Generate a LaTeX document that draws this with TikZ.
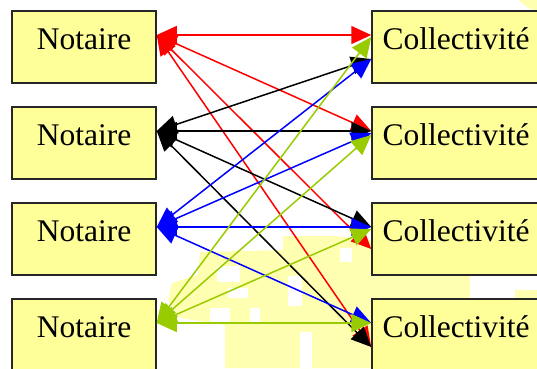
\documentclass[tikz,border=0pt]{standalone}
\usepackage{fontspec}
\setmainfont{Liberation Serif}
\usetikzlibrary{arrows.meta}
\definecolor{boite} {rgb}{1,1,0.6}
\definecolor{filigrane} {rgb}{1,1,0.7}
\definecolor{rouge} {rgb}{1,0,0}
\definecolor{noir} {rgb}{0,0,0}
\definecolor{bleu} {rgb}{0,0,1}
\definecolor{vert} {rgb}{0.6,0.8,0}

\begin{document}
\begin{tikzpicture}[x=1pt,y=-1pt,
      boite/.style={draw=black!85,line width=1.5pt,fill=boite,minimum height=72pt,inner sep=0pt,
                    text height=22pt,text depth=17pt,font=\fontsize{31.5}{36}\selectfont},
      lien/.style={line width=1.5pt,{Triangle[length=20pt,width=18pt]}-{Triangle[length=20pt,width=18pt]}}]
                  \useasboundingbox (0,0) rectangle (537,368);
                  \clip (0,0) rectangle (537,368);
                  \fill[filigrane] (283,236) -- (335,236) -- (372,240) -- (372,368) -- (225,368) -- (225,325) -- (180,318) -- (168,300) -- (172,283) -- (198,275) -- (200,252) -- (283,250) -- cycle;
                  \fill[filigrane] (372,276) -- (470,276) -- (470,300) -- (372,300) -- cycle;
                  \fill[filigrane] (515,290) rectangle (537,300);
                  \fill[filigrane] (545,-22) circle(34);
                  \fill[white] (217,266) rectangle (240,282);
                  \fill[white] (228,288) rectangle (248,298);
                  \fill[white] (288,276) rectangle (302,306);
                  \fill[white] (210,308) rectangle (230,322);
                  \fill[white] (250,308) rectangle (260,322);
                  \fill[white] (300,332) rectangle (312,368);
                  \fill[white] (340,248) rectangle (352,262);
                  \node[boite,minimum width=144pt] (notaire1) at (84,47) {Notaire};
                  \node[boite,minimum width=144pt] (notaire2) at (84,143) {Notaire};
                  \node[boite,minimum width=144pt] (notaire3) at (84,239) {Notaire};
                  \node[boite,minimum width=144pt] (notaire4) at (84,335) {Notaire};
                  \node[boite,minimum width=168pt] (collec1) at (456,47) {Collectivité};
                  \node[boite,minimum width=168pt] (collec2) at (456,143) {Collectivité};
                  \node[boite,minimum width=168pt] (collec3) at (456,239) {Collectivité};
                  \node[boite,minimum width=168pt] (collec4) at (456,335) {Collectivité};
                  \draw[lien,rouge] ([yshift=12pt]notaire1.east) -- ([yshift=12pt]collec1.west);
                  \draw[lien,rouge] ([yshift=12pt]notaire1.east) -- ([yshift=12pt]collec2.west);
                  \draw[lien,rouge] ([yshift=12pt]notaire1.east) -- ([yshift=-10pt]collec3.west);
                  \draw[lien,rouge] ([yshift=12pt]notaire1.east) -- ([yshift=-12pt]collec4.west);
                  \draw[lien,noir] ([yshift=12pt]notaire2.east) -- ([yshift=-12pt]collec1.west);
                  \draw[lien,noir] ([yshift=12pt]notaire2.east) -- ([yshift=12pt]collec2.west);
                  \draw[lien,noir] ([yshift=12pt]notaire2.east) -- ([yshift=12pt]collec3.west);
                  \draw[lien,noir] ([yshift=12pt]notaire2.east) -- ([yshift=-12pt]collec4.west);
                  \draw[lien,bleu] ([yshift=12pt]notaire3.east) -- ([yshift=-12pt]collec1.west);
                  \draw[lien,bleu] ([yshift=12pt]notaire3.east) -- ([yshift=10pt]collec2.west);
                  \draw[lien,bleu] ([yshift=12pt]notaire3.east) -- ([yshift=12pt]collec3.west);
                  \draw[lien,bleu] ([yshift=12pt]notaire3.east) -- ([yshift=12pt]collec4.west);
                  \draw[lien,vert] ([yshift=12pt]notaire4.east) -- ([yshift=10pt]collec1.west);
                  \draw[lien,vert] ([yshift=12pt]notaire4.east) -- ([yshift=8pt]collec2.west);
                  \draw[lien,vert] ([yshift=12pt]notaire4.east) -- ([yshift=10pt]collec3.west);
                  \draw[lien,vert] ([yshift=12pt]notaire4.east) -- ([yshift=12pt]collec4.west);
            \end{tikzpicture}
\end{document}
